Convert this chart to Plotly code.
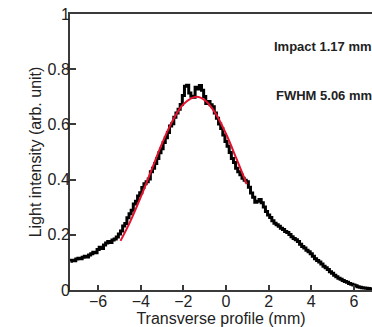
import plotly.graph_objects as go

# Transverse position bins (mm)
x_bins = [-7.3, -7.2, -7.1, -7.0, -6.9, -6.8, -6.7, -6.6, -6.5, -6.4,
          -6.3, -6.2, -6.1, -6.0, -5.9, -5.8, -5.7, -5.6, -5.5, -5.4,
          -5.3, -5.2, -5.1, -5.0, -4.9, -4.8, -4.7, -4.6, -4.5, -4.4,
          -4.3, -4.2, -4.1, -4.0, -3.9, -3.8, -3.7, -3.6, -3.5, -3.4,
          -3.3, -3.2, -3.1, -3.0, -2.9, -2.8, -2.7, -2.6, -2.5, -2.4,
          -2.3, -2.2, -2.1, -2.0, -1.9, -1.8, -1.7, -1.6, -1.5, -1.4,
          -1.3, -1.2, -1.1, -1.0, -0.9, -0.8, -0.7, -0.6, -0.5, -0.4,
          -0.3, -0.2, -0.1, 0.0, 0.1, 0.2, 0.3, 0.4, 0.5, 0.6,
          0.7, 0.8, 0.9, 1.0, 1.1, 1.2, 1.3, 1.4, 1.5, 1.6,
          1.7, 1.8, 1.9, 2.0, 2.1, 2.2, 2.3, 2.4, 2.5, 2.6,
          2.7, 2.8, 2.9, 3.0, 3.1, 3.2, 3.3, 3.4, 3.5, 3.6,
          3.7, 3.8, 3.9, 4.0, 4.1, 4.2, 4.3, 4.4, 4.5, 4.6,
          4.7, 4.8, 4.9, 5.0, 5.1, 5.2, 5.3, 5.4, 5.5, 5.6,
          5.7, 5.8, 5.9, 6.0, 6.1, 6.2, 6.3, 6.4, 6.5, 6.6,
          6.7, 6.8, 6.9]

# Measured light intensity (arb. unit)
intensity = [0.104, 0.108, 0.106, 0.112, 0.115, 0.113, 0.119, 0.122, 0.120, 0.127,
             0.131, 0.137, 0.135, 0.147, 0.155, 0.150, 0.163, 0.170, 0.176, 0.172,
             0.181, 0.185, 0.192, 0.203, 0.214, 0.232, 0.241, 0.262, 0.276, 0.289,
             0.312, 0.322, 0.341, 0.352, 0.371, 0.385, 0.392, 0.402, 0.428, 0.441,
             0.458, 0.476, 0.497, 0.512, 0.534, 0.552, 0.571, 0.594, 0.602, 0.626,
             0.641, 0.655, 0.672, 0.705, 0.738, 0.742, 0.714, 0.702, 0.698, 0.735,
             0.728, 0.741, 0.724, 0.701, 0.676, 0.683, 0.671, 0.664, 0.641, 0.622,
             0.601, 0.585, 0.562, 0.538, 0.521, 0.498, 0.476, 0.462, 0.441, 0.428,
             0.418, 0.405, 0.398, 0.392, 0.372, 0.351, 0.336, 0.318, 0.322, 0.328,
             0.316, 0.301, 0.284, 0.272, 0.263, 0.251, 0.242, 0.236, 0.231, 0.224,
             0.219, 0.212, 0.208, 0.201, 0.193, 0.187, 0.182, 0.176, 0.166, 0.158,
             0.152, 0.144, 0.139, 0.131, 0.122, 0.113, 0.107, 0.101, 0.094, 0.086,
             0.081, 0.074, 0.066, 0.061, 0.053, 0.048, 0.043, 0.039, 0.034, 0.031,
             0.028, 0.024, 0.021, 0.018, 0.015, 0.012, 0.010, 0.008, 0.007, 0.006,
             0.005, 0.004, 0.004]

# Gaussian fit curve
fit_x = [-4.95, -4.5, -4.0, -3.5, -3.0, -2.5, -2.0, -1.4, -1.0, -0.5, 0.0, 0.5, 0.97]
fit_y = [0.178, 0.247, 0.337, 0.434, 0.531, 0.614, 0.673, 0.700, 0.688, 0.641, 0.566, 0.474, 0.384]

x_tickvals = [-6, -4, -2, 0, 2, 4, 6]
y_tickvals = [0, 0.2, 0.4, 0.6, 0.8, 1]
y_ticktext = ["0", "0.2", "0.4", "0.6", "0.8", "1"]

annotations_text = ["Impact 1.17 mm", "FWHM 5.06 mm"]
annotations_y = [0.881, 0.704]

FONT = "Liberation Sans, Arial, Helvetica, sans-serif"
AX = "#3a3a3a"

fig = go.Figure()
fig.add_trace(go.Scatter(x=x_bins, y=intensity, mode="lines",
                         line=dict(color="black", width=3, shape="hvh"),
                         showlegend=False, hoverinfo="skip"))
fig.add_trace(go.Scatter(x=fit_x, y=fit_y, mode="lines",
                         line=dict(color="#e3122f", width=2, shape="spline"),
                         showlegend=False, hoverinfo="skip"))

for t, yv in zip(annotations_text, annotations_y):
    fig.add_annotation(text="<b>%s</b>" % t, x=1.0, xref="paper", xanchor="right",
                       y=yv, yref="paper", yanchor="middle", showarrow=False,
                       xshift=2,
                       font=dict(family=FONT, size=13, color="#222"))

fig.update_layout(
    width=372, height=327,
    margin=dict(l=70, r=0, t=14, b=37),
    paper_bgcolor="white", plot_bgcolor="white",
    font=dict(family=FONT, size=16, color="#222"),
    xaxis=dict(range=[-7.32, 6.85], tickvals=x_tickvals, ticks="inside",
               ticklen=5, tickwidth=1.5, tickcolor=AX,
               showline=True, linecolor=AX, linewidth=2, mirror=True,
               showgrid=False, zeroline=False, automargin=False,
               ticklabelstandoff=-4,
               title=dict(text="Transverse profile (mm)", standoff=0,
                          font=dict(size=16)),
               tickfont=dict(size=16)),
    yaxis=dict(range=[0, 1], tickvals=y_tickvals, ticktext=y_ticktext,
               ticks="inside", ticklen=6, tickwidth=1.5, tickcolor=AX,
               showline=True, linecolor=AX, linewidth=2,
               showgrid=False, zeroline=False, automargin=False,
               ticklabelstandoff=-5,
               title=dict(text="Light intensity (arb. unit)", standoff=2,
                          font=dict(size=16)),
               tickfont=dict(size=16)),
)

fig.write_html("out.html")
